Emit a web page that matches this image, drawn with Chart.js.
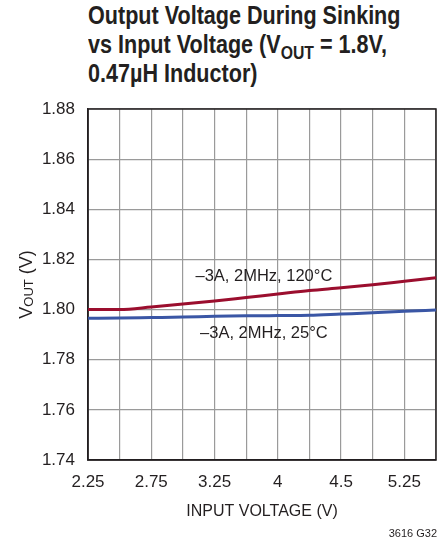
<!DOCTYPE html>
<html>
<head>
<meta charset="utf-8">
<script src="https://cdn.jsdelivr.net/npm/chart.js@4/dist/chart.umd.min.js"></script>
<style>
  html, body { margin: 0; padding: 0; background: #fff; overflow: hidden; width: 437px; height: 542px; }
  #wrap { position: relative; width: 448px; height: 542px; }
  #title { position: absolute; left: 88px; top: 1px; font: bold 26px/29px "Liberation Sans", sans-serif; color: #231f20; white-space: nowrap; transform: scaleX(0.83); transform-origin: 0 0; }
  #title sub { font-size: 19px; vertical-align: -6px; line-height: 0; }
  canvas { position: absolute; left: 0; top: 0; }
</style>
</head>
<body>
<div id="wrap">
  <div id="title">Output Voltage During Sinking<br>vs Input Voltage (V<sub>OUT</sub> = 1.8V,<br>0.47µH Inductor)</div>
  <canvas id="myChart" width="448" height="542"></canvas>
</div>
<script>
// x grid positions (labels only every other line, as in the datasheet)
const xLabels = ['2.25', '', '2.75', '', '3.25', '', '4', '', '4.5', '', '5.25', ''];
const yTicks = [1.74, 1.76, 1.78, 1.80, 1.82, 1.84, 1.86, 1.88];

// VOUT (V) at each grid position
const vout120C = [1.8000, 1.8000, 1.8010, 1.8022, 1.8034, 1.8048, 1.8062, 1.8076, 1.8087, 1.8099, 1.8113, 1.8127];
const vout25C  = [1.7965, 1.7966, 1.7968, 1.7970, 1.7973, 1.7975, 1.7976, 1.7977, 1.7982, 1.7987, 1.7993, 1.7998];

const curveLabels = ['\u20133A, 2MHz, 120\u00B0C', '\u20133A, 2MHz, 25\u00B0C'];
const curveLabelAt = [[5.56, 1.8133], [5.56, 1.7906]];

const FONT = '"Liberation Sans", sans-serif';
const INK = '#231f20';

const extras = {
  id: 'extras',
  beforeDatasetsDraw(chart) {
    const { ctx, chartArea: a } = chart;
    ctx.save();
    ctx.strokeStyle = INK;
    ctx.lineWidth = 1.5;
    ctx.strokeRect(a.left, a.top, a.right - a.left, a.bottom - a.top);
    ctx.restore();
  },
  afterDatasetsDraw(chart) {
    const { ctx, chartArea: a, scales } = chart;
    ctx.save();
    ctx.fillStyle = INK;
    ctx.textAlign = 'center';
    ctx.textBaseline = 'middle';
    ctx.font = '16.5px ' + FONT;
    curveLabels.forEach((t, i) => {
      ctx.fillText(t, scales.x.getPixelForValue(curveLabelAt[i][0]), scales.y.getPixelForValue(curveLabelAt[i][1]));
    });

    // y axis title with subscript
    const big = '18px ' + FONT, small = '13px ' + FONT;
    ctx.font = big; const w1 = ctx.measureText('V').width; const w3 = ctx.measureText(' (V)').width;
    ctx.font = small; const w2 = ctx.measureText('OUT').width;
    const total = w1 + w2 + w3;
    ctx.translate(32, (a.top + a.bottom) / 2);
    ctx.rotate(-Math.PI / 2);
    ctx.textAlign = 'left';
    ctx.textBaseline = 'alphabetic';
    let x = -total / 2;
    ctx.font = big; ctx.fillText('V', x, 0); x += w1;
    ctx.font = small; ctx.fillText('OUT', x, 1); x += w2;
    ctx.font = big; ctx.fillText(' (V)', x, 0);
    ctx.restore();

    ctx.save();
    ctx.fillStyle = INK;
    ctx.font = '11px ' + FONT;
    ctx.textAlign = 'right';
    ctx.fillText('3616 G32', 437, 537);
    ctx.restore();
  }
};

const ctx = document.getElementById('myChart').getContext('2d');
const chart = new Chart(ctx, {
  type: 'line',
  data: {
    labels: xLabels,
    datasets: [{
      label: '-3A, 2MHz, 120°C',
      data: vout120C,
      borderColor: '#9b0e2e',
      borderWidth: 3,
      pointRadius: 0,
      tension: 0.4,
      cubicInterpolationMode: 'monotone'
    }, {
      label: '-3A, 2MHz, 25°C',
      data: vout25C,
      borderColor: '#3a56a5',
      borderWidth: 3,
      pointRadius: 0,
      tension: 0.4,
      cubicInterpolationMode: 'monotone'
    }]
  },
  options: {
    responsive: false,
    animation: false,
    layout: { padding: { top: 109, right: 8, left: 0, bottom: 0 } },
    plugins: {
      legend: { display: false },
      tooltip: { enabled: false }
    },
    scales: {
      x: {
        offset: false,
        grid: { color: '#9a9a9a', lineWidth: 1.2, drawTicks: false },
        border: { color: INK, width: 1.5 },
        ticks: { autoSkip: false, maxRotation: 0, padding: 12, color: INK, font: { family: FONT, size: 17 } },
        title: { display: true, text: 'INPUT VOLTAGE (V)', color: INK, font: { family: FONT, size: 16 }, padding: { top: 0, bottom: 21 } },
        afterFit(scale) { scale.height = 82; }
      },
      y: {
        min: yTicks[0],
        max: yTicks[yTicks.length - 1],
        afterBuildTicks(scale) { scale.ticks = yTicks.map(v => ({ value: v })); },
        grid: { color: '#9a9a9a', lineWidth: 1.2, drawTicks: false },
        border: { color: INK, width: 1.5 },
        ticks: { padding: 13, color: INK, font: { family: FONT, size: 17 }, callback: v => v.toFixed(2) },
        afterFit(scale) { scale.width = 88; }
      }
    }
  },
  plugins: [extras]
});
</script>
</body>
</html>
